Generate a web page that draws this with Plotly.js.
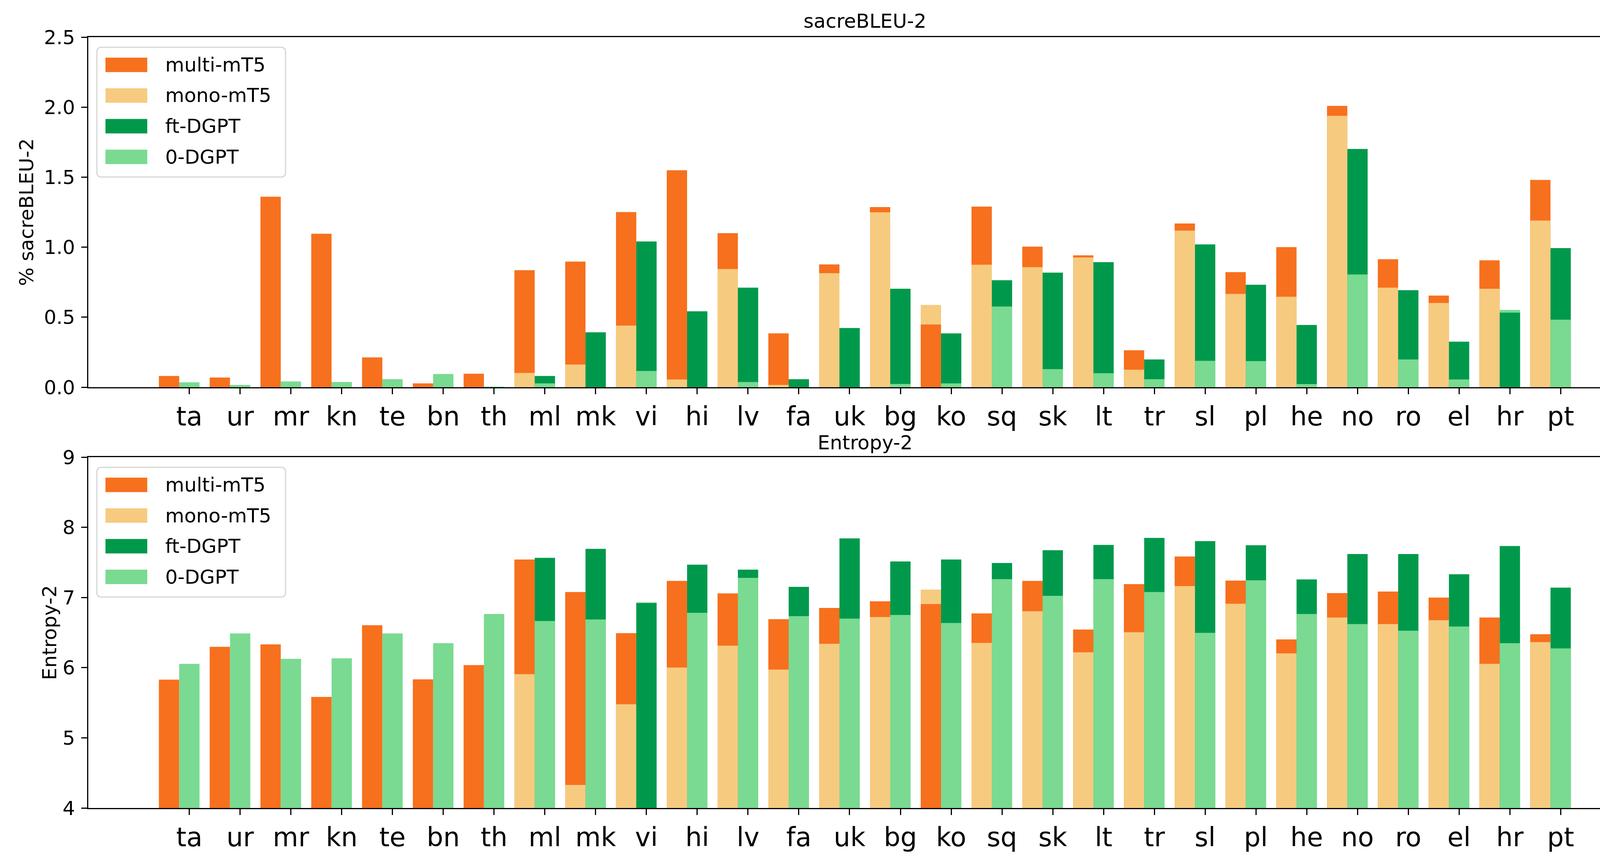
<!DOCTYPE html>
<html>
<head>
<meta charset="utf-8">
<script src="https://cdn.plot.ly/plotly-3.0.1.min.js"></script>
<style>
  html, body {margin: 0; padding: 0; background: white;}
  #chart {width: 4236px; height: 2196px;}
</style>
</head>
<body>
<div id="chart"></div>
<script>

// ---------------------------- DATA -------------------------------- //

var langs = ['ta','ur','mr','kn','te','bn','th','ml','mk','vi','hi','lv','fa','uk',
             'bg','ko','sq','sk','lt','tr','sl','pl','he','no','ro','el','hr','pt']

var seriesNames = ['multi-mT5', 'mono-mT5', 'ft-DGPT', '0-DGPT']

// sacreBLEU-2 (%)
var bleuMulti = [0.080,0.069,1.360,1.096,0.213,0.027,0.096,0.836,0.897,1.251,1.549,1.100,0.384,0.877,
                 1.286,0.448,1.290,1.004,0.942,0.264,1.169,0.822,1.000,2.009,0.914,0.654,0.906,1.480]
var bleuMono  = [null,null,null,null,null,null,null,0.102,0.162,0.440,0.055,0.844,0.016,0.814,
                 1.249,0.587,0.875,0.857,0.926,0.125,1.118,0.666,0.646,1.938,0.711,0.601,0.703,1.190]
var bleuFt    = [null,null,null,null,null,null,null,0.080,0.392,1.041,0.542,0.711,0.057,0.423,
                 0.703,0.384,0.764,0.818,0.893,0.198,1.020,0.732,0.444,1.701,0.693,0.325,0.532,0.993]
var bleuZero  = [0.035,0.016,0.041,0.037,0.057,0.094,0.004,0.027,0.000,0.116,0.000,0.037,0.000,0.000,
                 0.023,0.027,0.576,0.129,0.100,0.057,0.188,0.186,0.022,0.805,0.198,0.055,0.552,0.482]

// Entropy-2
var entMulti = [5.829,6.297,6.332,5.583,6.605,5.833,6.036,7.541,7.077,6.492,7.237,7.058,6.691,6.851,
                6.945,6.906,6.773,7.237,6.543,7.190,7.584,7.241,6.403,7.062,7.085,6.999,6.715,6.477]
var entMono  = [null,null,null,null,null,null,null,5.907,4.328,5.478,6.001,6.313,5.973,6.340,
                6.722,7.112,6.352,6.804,6.219,6.504,7.163,6.910,6.204,6.715,6.621,6.676,6.055,6.364]
var entFt    = [null,null,null,null,null,null,null,7.565,7.693,6.921,7.467,7.397,7.151,7.842,
                7.514,7.541,7.491,7.674,7.748,7.849,7.803,7.744,7.257,7.619,7.619,7.331,7.733,7.140]
var entZero  = [6.055,6.488,6.126,6.133,6.488,6.348,6.765,6.664,6.687,6.930,6.781,7.280,6.734,6.699,
                6.750,6.637,7.261,7.023,7.261,7.077,6.496,7.245,6.765,6.621,6.527,6.586,6.348,6.274]

var bleuTicks = [0, 0.5, 1.0, 1.5, 2.0, 2.5]
var entTicks = [4, 5, 6, 7, 8, 9]

// ---------------------------- STYLE -------------------------------- //

var colors = ['#F7701E', '#F6CB80', '#00994C', '#7ADA91']
var W = 4236, H = 2196
var FONT = 'DejaVu Sans'

// plot frames in px (left, right, top, bottom)
var frameL = 226, frameR = 4202
var topFrame = [95, 991]
var botFrame = [1170, 2068]

function X(px) {return px / W}
function Y(py) {return 1 - py / H}


// ---------------------------- TRACES -------------------------------- //

// smaller bar of each pair is drawn in front
function frontOf(a, b) {
    var out = []
    for (var i = 0; i < a.length; i++) {
        out.push((a[i] != null && b[i] != null && a[i] < b[i]) ? a[i] : null)
    }
    return out
}

function barTrace(y, color, offset, xa, ya, name) {
    return {
        type: 'bar',
        x: langs,
        y: y,
        name: name,
        xaxis: xa,
        yaxis: ya,
        offset: offset,
        width: 0.4,
        marker: {color: color, line: {width: 0}},
        showlegend: false,
        hoverinfo: 'x+y+name',
    }
}

function panelTraces(multi, mono, ft, zero, xa, ya) {
    return [
        barTrace(multi, colors[0], -0.6, xa, ya, seriesNames[0]),
        barTrace(mono,  colors[1], -0.6, xa, ya, seriesNames[1]),
        barTrace(frontOf(multi, mono), colors[0], -0.6, xa, ya, seriesNames[0]),
        barTrace(ft,    colors[2], -0.2, xa, ya, seriesNames[2]),
        barTrace(zero,  colors[3], -0.2, xa, ya, seriesNames[3]),
        barTrace(frontOf(ft, zero), colors[2], -0.2, xa, ya, seriesNames[2]),
    ]
}

var data = panelTraces(bleuMulti, bleuMono, bleuFt, bleuZero, 'x', 'y')
    .concat(panelTraces(entMulti, entMono, entFt, entZero, 'x2', 'y2'))


// ---------------------------- LEGEND -------------------------------- //

function legendParts(top) {
    var shapes = []
    var annos = []
    var x0 = 248, x1 = 731, y0 = top + 26, y1 = top + 358, r = 12
    var path = 'M ' + X(x0 + r) + ',' + Y(y0) +
        ' L ' + X(x1 - r) + ',' + Y(y0) + ' Q ' + X(x1) + ',' + Y(y0) + ' ' + X(x1) + ',' + Y(y0 + r) +
        ' L ' + X(x1) + ',' + Y(y1 - r) + ' Q ' + X(x1) + ',' + Y(y1) + ' ' + X(x1 - r) + ',' + Y(y1) +
        ' L ' + X(x0 + r) + ',' + Y(y1) + ' Q ' + X(x0) + ',' + Y(y1) + ' ' + X(x0) + ',' + Y(y1 - r) +
        ' L ' + X(x0) + ',' + Y(y0 + r) + ' Q ' + X(x0) + ',' + Y(y0) + ' ' + X(x0 + r) + ',' + Y(y0) + ' Z'
    shapes.push({type: 'path', xref: 'paper', yref: 'paper', path: path,
                 fillcolor: 'rgba(255,255,255,0.8)', line: {color: '#d6d6d6', width: 3}, layer: 'above'})

    var rows = [71, 149.5, 228, 306.5]
    for (var i = 0; i < seriesNames.length; i++) {
        var cy = top + rows[i]
        shapes.push({type: 'rect', xref: 'paper', yref: 'paper',
                     x0: X(270), x1: X(377), y0: Y(cy - 18.5), y1: Y(cy + 18.5),
                     fillcolor: colors[i], line: {width: 0}, layer: 'above'})
        annos.push({xref: 'paper', yref: 'paper', x: X(421), y: Y(cy), xanchor: 'left', yanchor: 'middle',
                    text: seriesNames[i], showarrow: false, font: {family: FONT, size: 50, color: 'black'}})
    }
    return {shapes: shapes, annos: annos}
}

var legTop = legendParts(topFrame[0])
var legBot = legendParts(botFrame[0])


// ---------------------------- LAYOUT -------------------------------- //

function xAxis(frame, anchor) {
    return {
        type: 'category',
        domain: [X(frameL), X(frameR)],
        anchor: anchor,
        range: [-1.99, 28.59],
        showline: true, mirror: true, linecolor: 'black', linewidth: 3,
        ticks: 'outside', ticklen: 15, tickwidth: 3, tickcolor: 'black',
        tickfont: {family: FONT, size: 67, color: 'black'},
        showgrid: false, zeroline: false, fixedrange: true,
    }
}

function yAxis(frame, anchor, range, ticks, fmt, title, standoff) {
    return {
        domain: [Y(frame[1]), Y(frame[0])],
        anchor: anchor,
        range: range,
        tickvals: ticks,
        tickformat: fmt,
        showline: true, mirror: true, linecolor: 'black', linewidth: 3,
        ticks: 'outside', ticklen: 15, tickwidth: 3, tickcolor: 'black',
        tickfont: {family: FONT, size: 50, color: 'black'},
        ticklabelstandoff: 6,
        showgrid: false, zeroline: false, fixedrange: true,
        title: {text: title, font: {family: FONT, size: 50, color: 'black'}, standoff: standoff},
    }
}

var titleX = X((frameL + frameR) / 2)
var titles = [
    {xref: 'paper', yref: 'paper', x: titleX, y: Y(topFrame[0]), xanchor: 'center', yanchor: 'bottom', yshift: 10,
     text: 'sacreBLEU-2', showarrow: false, font: {family: FONT, size: 50, color: 'black'}},
    {xref: 'paper', yref: 'paper', x: titleX, y: Y(botFrame[0]), xanchor: 'center', yanchor: 'bottom', yshift: 6,
     text: 'Entropy-2', showarrow: false, font: {family: FONT, size: 50, color: 'black'}},
]

var layout = {
    width: W,
    height: H,
    margin: {l: 0, r: 0, t: 0, b: 0},
    paper_bgcolor: 'white',
    plot_bgcolor: 'white',
    font: {family: FONT, color: 'black'},
    barmode: 'overlay',
    showlegend: false,
    xaxis: xAxis(topFrame, 'y'),
    yaxis: yAxis(topFrame, 'x', [0, 2.5], bleuTicks, '.1f', '% sacreBLEU-2', 11),
    xaxis2: xAxis(botFrame, 'y2'),
    yaxis2: yAxis(botFrame, 'x2', [4, 9], entTicks, 'd', 'Entropy-2', 0),
    shapes: legTop.shapes.concat(legBot.shapes),
    annotations: titles.concat(legTop.annos, legBot.annos),
}

Plotly.newPlot('chart', data, layout, {displayModeBar: false, staticPlot: true})

</script>
</body>
</html>
